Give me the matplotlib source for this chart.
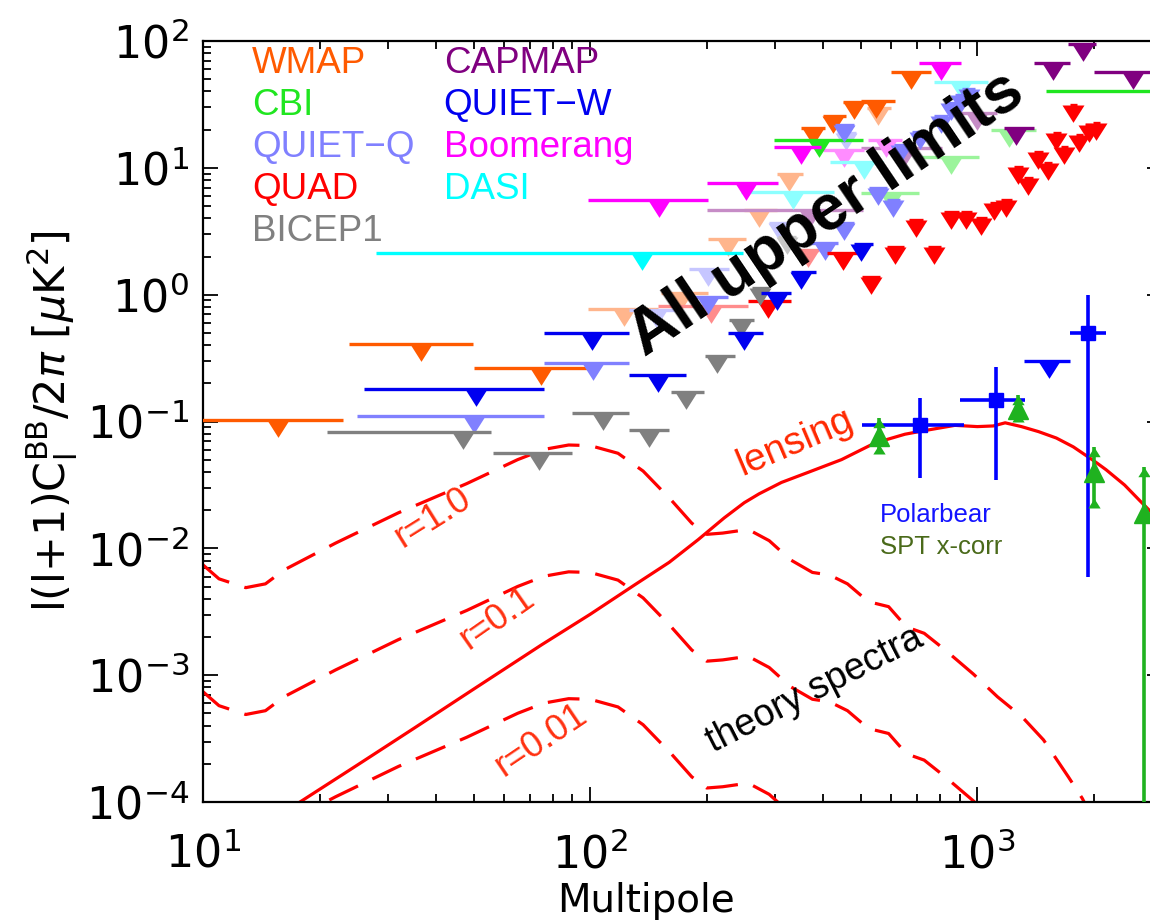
import numpy as np
import matplotlib
matplotlib.use('Agg')
from matplotlib import pyplot as plt
from matplotlib.colors import to_rgb

# ---- theory spectra ----
# tensor BB template for r = 1, scaled by r for the other curves
tensor_ell = [10, 11, 12.9, 14.5, 16.2, 22, 32, 48, 65, 76, 88, 100, 118, 137, 162, 183,
              200, 220, 256, 290, 329, 375, 415, 462, 523, 590, 656, 729, 826, 977,
              1127, 1306, 1482, 1718, 1866, 2000]
tensor_r1 = [7.41e-3, 5.75e-3, 4.90e-3, 5.25e-3, 6.76e-3, 1.10e-2, 1.91e-2, 3.24e-2,
             5.01e-2, 6.03e-2, 6.53e-2, 6.46e-2, 5.62e-2, 4.07e-2, 2.40e-2, 1.58e-2,
             1.29e-2, 1.32e-2, 1.41e-2, 1.15e-2, 8.13e-3, 6.46e-3, 6.17e-3, 5.25e-3,
             3.80e-3, 3.47e-3, 2.40e-3, 2.14e-3, 1.58e-3, 1.02e-3, 6.76e-4, 4.68e-4,
             3.09e-4, 1.58e-4, 1.07e-4, 7.1e-5]
r_values = [1.0, 0.1, 0.01]

lens_ell = [15, 17.8, 25, 35, 50, 75, 100, 130, 160, 190, 222, 250, 273, 312, 366, 446,
            543, 650, 735, 875, 1000, 1100, 1180, 1300, 1440, 1600, 1770, 2000, 2150,
            2400, 2620, 3000]
lens_dl = [7.1e-5, 1.0e-4, 1.95e-4, 3.80e-4, 7.76e-4, 1.74e-3, 3.02e-3, 5.13e-3, 7.76e-3,
           1.17e-2, 1.74e-2, 2.29e-2, 2.69e-2, 3.31e-2, 3.98e-2, 5.01e-2, 6.76e-2,
           7.94e-2, 8.51e-2, 9.33e-2, 9.12e-2, 9.23e-2, 9.77e-2, 9.12e-2, 8.32e-2,
           7.41e-2, 6.31e-2, 4.90e-2, 4.17e-2, 3.16e-2, 2.40e-2, 1.58e-2]

# ---- upper limits: (ell, ell_lo, ell_hi, limit) ----
wmap = [(15.6, 2, 23, 0.103), (36.5, 23.8, 49.8, 0.41), (74.6, 50, 100.7, 0.264),
        (377, 351, 403, 20.6), (425, 400, 458, 25.6), (481, 451, 523, 33),
        (548, 501, 611, 33.6), (675, 600, 760, 57)]
wmap_faded = [(122, 99, 150, 0.77), (172, 152, 202, 1.03), (227, 202, 253, 2.74),
              (273, 250, 303, 4.65), (327, 303, 355, 8.9), (555, 520, 600, 29.5)]
cbi = [(391, 299, 507, 16.6), (3300, 1500, 8000, 40.4)]
cbi_faded = [(600, 501, 708, 6.3), (857, 687, 1012, 12.2), (1210, 1087, 1420, 19.9)]
quiet_q = [(50, 25, 76, 0.110), (102, 76, 126, 0.289), (202, 179, 227, 0.957),
           (403, 366, 437, 2.55), (453, 430, 480, 3.67), (453, 430, 480, 21.7),
           (555, 526, 585, 6.93), (607, 585, 630, 5.57), (636, 610, 665, 15.1),
           (709, 680, 740, 19.1), (807, 775, 840, 25.6), (857, 825, 890, 32.5),
           (910, 875, 945, 37.5), (949, 915, 985, 41.8)]
quiet_q_faded = [(148, 126, 172, 0.76), (202, 180, 229, 1.59), (308, 290, 325, 3.67),
                 (458, 435, 485, 19.0)]
quad = [(288, 255, 330, 0.89), (451, 408, 501, 2.13), (532, 505, 560, 1.38),
        (614, 585, 645, 2.37), (695, 665, 725, 3.87), (774, 745, 805, 2.37),
        (857, 820, 895, 4.48), (937, 905, 970, 4.48), (1024, 990, 1060, 4.0),
        (1107, 1075, 1140, 5.27), (1189, 1150, 1230, 5.57), (1276, 1240, 1310, 10.1),
        (1355, 1320, 1390, 8.3), (1438, 1400, 1475, 13.3), (1525, 1490, 1560, 10.9),
        (1600, 1565, 1640, 18.8), (1678, 1640, 1715, 14.6), (1770, 1730, 1810, 31.3),
        (1835, 1795, 1875, 18.2), (1937, 1895, 1980, 21.7), (2030, 1985, 2075, 22.5)]
quad_faded = [(205, 150, 256, 0.81), (366, 345, 390, 2.25)]
bicep1 = [(47, 20.9, 55.5, 0.0824), (73.8, 56, 90, 0.0564), (108, 90, 126, 0.116),
          (142, 126, 160, 0.0855), (177, 162, 197, 0.171), (212, 198, 237, 0.328),
          (245, 229, 265, 0.63), (275, 262, 290, 1.13)]
bicep1_faded = [(323, 305, 340, 2.85)]
capmap = [(1260, 1170, 1400, 20.6), (1570, 1400, 1730, 67), (1880, 1717, 2028, 94.7),
          (2530, 2000, 3300, 57)]
capmap_faded = [(370, 200, 507, 4.65), (650, 500, 810, 14.3), (1000, 910, 1122, 27)]
quiet_w = [(50.7, 26, 76, 0.18), (101, 76, 126, 0.50), (150, 126, 177, 0.232),
           (250, 227, 280, 0.50), (303, 277, 330, 1.03), (351, 330, 384, 1.51),
           (501, 479, 538, 2.5)]
boomerang = [(151, 99, 202, 5.57), (253, 200, 306, 7.6), (351, 299, 395, 14.6),
             (807, 705, 910, 67)]
boomerang_faded = [(453, 400, 510, 13.8), (580, 522, 640, 16.6)]
dasi = [(136, 28, 248, 2.13)]
dasi_faded = [(335, 245, 427, 6.4), (511, 417, 570, 11.1), (910, 774, 1067, 47.6)]

# ---- detections ----
pb_ell = [711, 1115, 1930]
pb_ell_lo = [504, 904, 1730]
pb_ell_hi = [925, 1330, 2150]
pb_dl = [0.094, 0.148, 0.50]
pb_dl_lo = [0.036, 0.0345, 0.0059]
pb_dl_hi = [0.153, 0.268, 1.0]
pb_limit = [(1527, 1320, 1740, 0.30)]

spt_ell = [557, 1270, 2000, 2690]
spt_dl = [0.077, 0.126, 0.040, 0.019]
spt_dl_lo = [0.0553, 0.0989, 0.0207, 1e-6]
spt_dl_hi = [0.106, 0.161, 0.0628, 0.0436]

experiments = [
    ('WMAP', '#ff5a00', wmap, wmap_faded, 0, 0),
    ('CBI', '#20e620', cbi, cbi_faded, 0, 1),
    ('QUIET\u2212Q', '#8080ff', quiet_q, quiet_q_faded, 0, 2),
    ('QUAD', '#ff0000', quad, quad_faded, 0, 3),
    ('BICEP1', '#808080', bicep1, bicep1_faded, 0, 4),
    ('CAPMAP', '#800080', capmap, capmap_faded, 1, 0),
    ('QUIET\u2212W', '#0000f0', quiet_w, [], 1, 1),
    ('Boomerang', '#ff00ff', boomerang, boomerang_faded, 1, 2),
    ('DASI', '#00ffff', dasi, dasi_faded, 1, 3),
]

plt.rcParams['font.family'] = ['Liberation Sans', 'DejaVu Sans']
plt.rcParams['mathtext.fontset'] = 'dejavusans'

fig = plt.figure(figsize=(11.5, 9.24), dpi=100)
# right edge of the axes lies just outside the picture, as in the original
ax = fig.add_axes([0.1765, 0.132, 0.834, 0.8236])
ax.set_xscale('log')
ax.set_yscale('log')

tri_down = [(-1, 0), (1, 0), (0, -1.58), (-1, 0)]
tri_up = [(-1, -1.58), (1, -1.58), (0, 0), (-1, -1.58)]
tri_up_base = [(-1, 0), (1, 0), (0, 1.58), (-1, 0)]


def lighten(c, f=0.55):
    r, g, b = to_rgb(c)
    return (r + (1 - r) * f, g + (1 - g) * f, b + (1 - b) * f)


def draw_limits(rows, color, z):
    for ell, lo, hi, ul in rows:
        ax.plot([lo, hi], [ul, ul], color=color, lw=2.4, solid_capstyle='butt', zorder=z)
        ax.plot([ell], [ul], ls='none', marker=tri_down, ms=25, color=color,
                mec=color, mew=0, zorder=z)


# theory
for r in r_values:
    ax.plot(tensor_ell, np.array(tensor_r1) * r, color='red', lw=2.3,
            dashes=(10, 5), zorder=2)
ax.plot(lens_ell, lens_dl, color='red', lw=2.3, zorder=2)

for name, col, rows, faded, cx, cy in experiments:
    draw_limits(faded, lighten(col), 3)
for name, col, rows, faded, cx, cy in experiments:
    draw_limits(rows, col, 4)

# Polarbear
pb_col = '#0000ff'
draw_limits(pb_limit, pb_col, 5)
ax.errorbar(pb_ell, pb_dl,
            xerr=[np.array(pb_ell) - np.array(pb_ell_lo), np.array(pb_ell_hi) - np.array(pb_ell)],
            yerr=[np.array(pb_dl) - np.array(pb_dl_lo), np.array(pb_dl_hi) - np.array(pb_dl)],
            fmt='s', ms=10, color=pb_col, elinewidth=2.6, capsize=0, zorder=6)

# SPT cross-correlation
spt_col = '#1fb21f'
ax.vlines(spt_ell, spt_dl_lo, spt_dl_hi, color=spt_col, lw=2.6, zorder=6)
ax.plot(spt_ell, spt_dl, ls='none', marker='^', ms=14, color=spt_col, zorder=7)
ax.plot(spt_ell, spt_dl_hi, ls='none', marker=tri_up, ms=14, color=spt_col, mew=0, zorder=7)
ax.plot(spt_ell, spt_dl_lo, ls='none', marker=tri_up_base, ms=14, color=spt_col, mew=0, zorder=7)

ax.set_xlim(10, 3000)
ax.set_ylim(1e-4, 1e2)

# legend as coloured words
for name, col, rows, faded, cx, cy in experiments:
    ax.text(0.051 + 0.2 * cx, 0.971 - 0.0553 * cy, name, color=col, fontsize=26.5,
            ha='left', va='center', transform=ax.transAxes, zorder=10)

ax.text(0.706, 0.377, 'Polarbear', color='#1414ff', fontsize=18.5, ha='left',
        va='center', transform=ax.transAxes)
ax.text(0.706, 0.335, 'SPT x-corr', color='#4a6a1a', fontsize=18.5, ha='left',
        va='center', transform=ax.transAxes)

ax.text(0.650, 0.772, 'All upper limits', fontsize=46, fontweight='bold', rotation=34,
        ha='center', va='center', transform=ax.transAxes, zorder=12)
ax.text(0.617, 0.472, 'lensing', color='#ff2800', fontsize=28, rotation=23,
        ha='center', va='center', transform=ax.transAxes)
ax.text(0.638, 0.147, 'theory spectra', color='black', fontsize=27, rotation=27,
        ha='center', va='center', transform=ax.transAxes)
for lab, px, py, rot in [('r=1.0', 0.240, 0.373, 32), ('r=0.1', 0.307, 0.242, 35),
                         ('r=0.01', 0.352, 0.081, 34)]:
    ax.text(px, py, lab, color='#ff3010', fontsize=26, rotation=rot,
            ha='center', va='center', transform=ax.transAxes)

for s in ax.spines.values():
    s.set_linewidth(1.6)
ax.tick_params(which='both', direction='in', top=True, right=True, width=1.3)
ax.tick_params(which='major', length=11, labelsize=32, pad=10)
ax.tick_params(which='minor', length=5.5)
ax.tick_params(axis='x', which='major', pad=22)
for lab in ax.get_xticklabels() + ax.get_yticklabels():
    lab.set_family('DejaVu Sans')

ax.set_xlabel('Multipole', fontsize=28, family='DejaVu Sans', va='baseline')
ax.xaxis.set_label_coords(0.462, -0.1445)
ax.set_ylabel(r'l(l+1)C$_\mathregular{l}^\mathregular{BB}$/2$\pi$ [$\mu$K$^\mathregular{2}$]',
              fontsize=31, family='DejaVu Sans', labelpad=4)

fig.savefig('out.png', dpi=100)
